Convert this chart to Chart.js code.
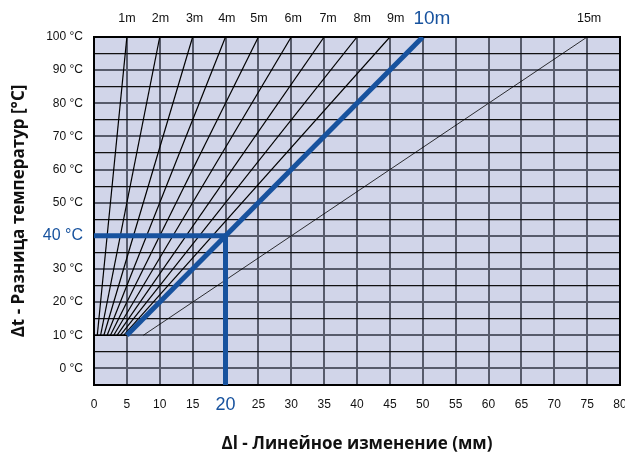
<!DOCTYPE html>
<html>
<head>
<meta charset="utf-8">
<script src="https://cdn.jsdelivr.net/npm/chart.js@4"></script>
<style>
  html, body { margin: 0; padding: 0; background: #ffffff; }
  #wrap { width: 625px; height: 455px; }
</style>
</head>
<body>
<div id="wrap"><canvas id="chart" width="625" height="455"></canvas></div>
<script>
// Pipe lengths and their linear expansion (mm) at 10 °C and at 100 °C
const lengthLabels = ['1m', '2m', '3m', '4m', '5m', '6m', '7m', '8m', '9m', '10m', '15m'];
const startMm = [0.5, 1, 1.5, 2, 2.5, 3, 3.5, 4, 4.5, 5, 7.5];
const endMm = [5, 10, 15, 20, 25, 30, 35, 40, 45, 50, 75];
const lineTemps = [10, 100];
// where each length label sits along the top edge (mm)
const labelMm = [5, 10.1, 15.3, 20.2, 25.1, 30.3, 35.6, 40.8, 45.9, 51.4, 75.3];
// short base segment joining the fan at 10 °C
const baseMm = [0, 5];

// worked example: 40 °C difference -> 20 mm
const exampleTemp = 40;
const exampleMm = 20;
const exampleLength = '10m';

// axis ticks
const xTickValues = [0, 5, 10, 15, 20, 25, 30, 35, 40, 45, 50, 55, 60, 65, 70, 75, 80];
const xTickLabels = ['0', '5', '10', '15', '20', '25', '30', '35', '40', '45', '50', '55', '60', '65', '70', '75', '80'];
const yTickValues = [0, 10, 20, 30, 40, 50, 60, 70, 80, 90, 100];
const yTickLabels = ['0 °C', '10 °C', '20 °C', '30 °C', '40 °C', '50 °C', '60 °C', '70 °C', '80 °C', '90 °C', '100 °C'];

const BLUE = '#17529e';
const PLOT_BG = '#d1d5e9';
const TICK_FONT = 'Liberation Sans, Arial, sans-serif';
const TITLE_FONT = '"Open Sans", "DejaVu Sans", sans-serif';

const datasets = lengthLabels.map((name, i) => {
  const highlight = name === exampleLength;
  return {
    label: name,
    data: [
      { x: startMm[i], y: lineTemps[0] },
      { x: endMm[i], y: lineTemps[1] }
    ],
    borderColor: highlight ? BLUE : '#000000',
    borderWidth: highlight ? 5 : (name === '15m' ? 0.8 : 1.2),
    pointRadius: 0,
    order: highlight ? 0 : 2
  };
});

datasets.push({
  label: 'base',
  data: [{ x: baseMm[0], y: lineTemps[0] }, { x: baseMm[1], y: lineTemps[0] }],
  borderColor: '#000000',
  borderWidth: 1.2,
  pointRadius: 0,
  order: 3
});

// example guide: across at 40 °C, then down to the mm axis
datasets.push({
  label: 'example',
  data: [
    { x: 0, y: exampleTemp },
    { x: exampleMm, y: exampleTemp },
    { x: exampleMm, y: -5 }
  ],
  borderColor: BLUE,
  borderWidth: 5,
  borderJoinStyle: 'miter',
  pointRadius: 0,
  order: 1
});

const plotFrame = {
  id: 'plotFrame',
  beforeDraw(chart) {
    const { ctx, chartArea: a } = chart;
    ctx.save();
    ctx.fillStyle = PLOT_BG;
    ctx.fillRect(a.left, a.top, a.right - a.left, a.bottom - a.top);
    ctx.restore();
  },
  beforeDatasetsDraw(chart) {
    const { ctx, chartArea: a } = chart;
    ctx.save();
    ctx.strokeStyle = '#000000';
    ctx.lineWidth = 2;
    ctx.strokeRect(a.left, a.top, a.right - a.left, a.bottom - a.top);
    ctx.restore();
  }
};

function fixHorizontal(h) {
  return s => { s.height = h; s.paddingLeft = 0; s.paddingRight = 0; };
}

new Chart(document.getElementById('chart'), {
  type: 'line',
  data: { datasets },
  plugins: [plotFrame],
  options: {
    responsive: false,
    animation: false,
    devicePixelRatio: 1,
    layout: { padding: { left: 0, right: 5, top: 0, bottom: 0 } },
    plugins: { legend: { display: false }, tooltip: { enabled: false } },
    scales: {
      x: {
        type: 'linear',
        position: 'bottom',
        min: 0,
        max: 80,
        afterBuildTicks: axis => { axis.ticks = xTickValues.map(v => ({ value: v })); },
        afterFit: fixHorizontal(70),
        grid: { color: '#575b6b', lineWidth: 2, drawTicks: false },
        border: { display: false },
        ticks: {
          autoSkip: false,
          maxRotation: 0,
          padding: 13,
          color: ctx => ctx.tick && ctx.tick.value === exampleMm ? BLUE : '#111111',
          font: ctx => (ctx.tick && ctx.tick.value === exampleMm)
            ? { family: TICK_FONT, size: 18, lineHeight: '14px' }
            : { family: TICK_FONT, size: 12, lineHeight: '14px' },
          callback: (v) => {
            const i = xTickValues.indexOf(v);
            return i >= 0 ? xTickLabels[i] : '';
          }
        },
        title: {
          display: true,
          text: 'Δl - Линейное изменение (мм)',
          color: '#111111',
          font: { family: TITLE_FONT, size: 17, weight: 'bold', lineHeight: 1.2 },
          padding: { top: 0, bottom: 1 }
        }
      },
      xTop: {
        type: 'linear',
        position: 'top',
        min: 0,
        max: 80,
        afterBuildTicks: axis => { axis.ticks = labelMm.map(v => ({ value: v })); },
        afterFit: fixHorizontal(37),
        grid: { display: false, drawTicks: false },
        border: { display: false },
        ticks: {
          autoSkip: false,
          maxRotation: 0,
          padding: 11,
          color: ctx => lengthLabels[ctx.index] === exampleLength ? BLUE : '#111111',
          font: ctx => lengthLabels[ctx.index] === exampleLength
            ? { family: TICK_FONT, size: 19, lineHeight: '14px' }
            : { family: TICK_FONT, size: 12.5, lineHeight: '14px' },
          callback: (v, i) => lengthLabels[i]
        }
      },
      y: {
        type: 'linear',
        position: 'left',
        min: -5,
        max: 100,
        ticks: {
          stepSize: 5,
          autoSkip: false,
          padding: 11,
          color: ctx => ctx.tick && ctx.tick.value === exampleTemp ? BLUE : '#111111',
          font: ctx => (ctx.tick && ctx.tick.value === exampleTemp)
            ? { family: TICK_FONT, size: 16 }
            : { family: TICK_FONT, size: 12 },
          callback: (v) => {
            const i = yTickValues.indexOf(v);
            return i >= 0 ? yTickLabels[i] : '';
          }
        },
        afterFit: s => { s.width = 94; s.paddingTop = 0; s.paddingBottom = 0; },
        grid: {
          drawTicks: false,
          color: ctx => (ctx.tick && ctx.tick.value % 10 === 0) ? '#575b6b' : '#111111',
          lineWidth: ctx => (ctx.tick && ctx.tick.value % 10 === 0) ? 2 : 1.2
        },
        border: { display: false },
        title: {
          display: true,
          text: 'Δt - Разница температур [°C]',
          color: '#111111',
          font: { family: TITLE_FONT, size: 17, weight: 'bold', lineHeight: 1.2 },
          padding: { top: 9, bottom: 0 }
        }
      }
    }
  }
});
</script>
</body>
</html>
